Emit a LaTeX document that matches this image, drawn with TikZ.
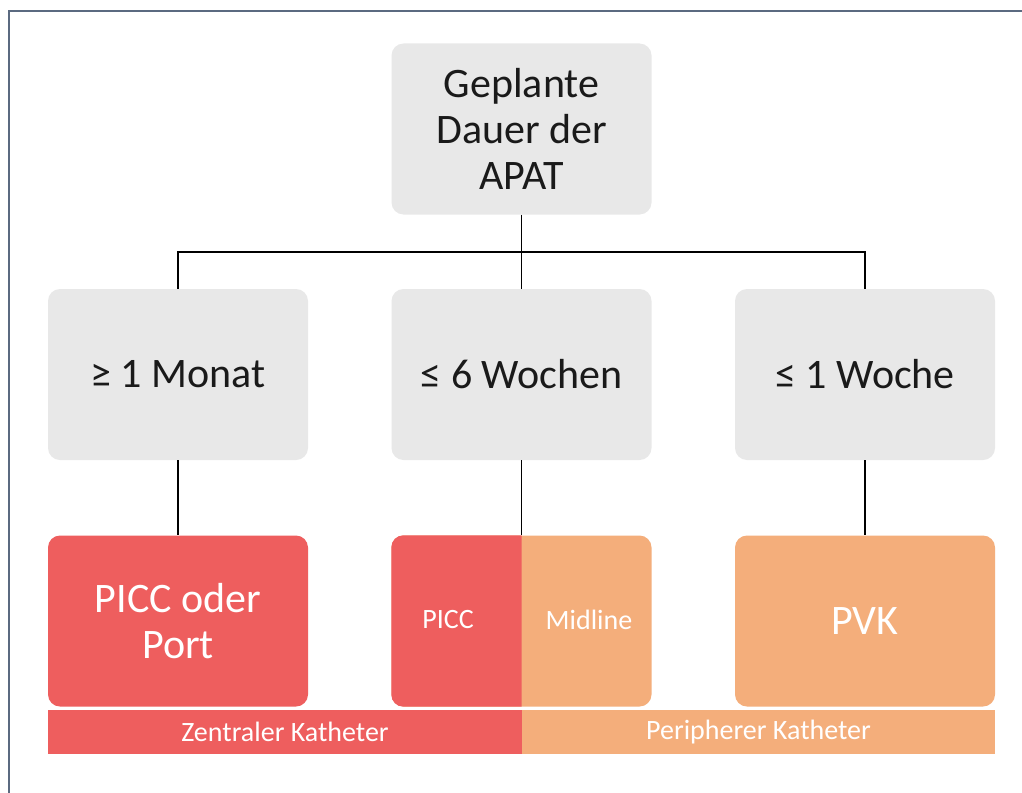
\documentclass[tikz,border=0pt]{standalone}
\usepackage{fontspec}
\setmainfont{Carlito}
\definecolor{boxgray}{HTML}{E8E8E8}
\definecolor{cred}{HTML}{EE5E5E}
\definecolor{corange}{HTML}{F4AE7B}
\definecolor{framec}{HTML}{5B6A80}
\definecolor{textdark}{HTML}{1A1A1A}
\begin{document}
\begin{tikzpicture}[x=1pt,y=-1pt,
  box/.style={rectangle, rounded corners=12pt, minimum width=260pt, minimum height=171pt,
    inner sep=0pt, align=center, font=\fontsize{42}{46}\selectfont},
  graybox/.style={box, fill=boxgray, text=textdark},
  redbox/.style={box, fill=cred, text=white},
  orangebox/.style={box, fill=corange, text=white},
  conn/.style={draw=black, line width=1.5pt},
  barpart/.style={rectangle, minimum height=44pt, inner sep=0pt, text=white,
    font=\fontsize{28}{32}\selectfont},
  smalltxt/.style={inner sep=0pt, text=white, font=\fontsize{28}{32}\selectfont}]
\useasboundingbox (0,0) rectangle (1022,792);
\fill[white] (0,0) rectangle (1022,792);
\draw[framec, line width=2.5pt] (9,800) -- (9,11) -- (1030,11);

% top
\node[graybox] (top) at (521.5,129) {Geplante\\Dauer der\\APAT};
% middle row
\node[graybox] (m1) at (178,374.5) {≥ 1 Monat};
\node[graybox] (m2) at (521.5,374.5) {≤ 6 Wochen};
\node[graybox] (m3) at (865,374.5) {≤ 1 Woche};
% bottom row
\node[redbox] (b1) at (178,621) {PICC oder\\Port};
\node[orangebox] (b2) at (521.5,621) {};
\begin{scope}
  \clip (380,500) rectangle (521.5,720);
  \fill[cred, rounded corners=12pt] (b2.north west) rectangle (b2.south east);
\end{scope}
\node[smalltxt] (picc) at (448,620) {PICC};
\node[smalltxt] (midl) at (589,620) {Midline};
\node[orangebox] (b3) at (865,621) {PVK};
% bars
\node[barpart, fill=cred, minimum width=474pt] (barL) at (285,732) {Zentraler Katheter};
\node[barpart, fill=corange, minimum width=473pt] (barR) at (758.5,732) {Peripherer Katheter};

% connectors
\coordinate (hub) at (521.5,252);
\draw[conn] (top.south) -- (hub);
\draw[conn] (m1.north) |- (hub);
\draw[conn] (hub) -| (m3.north);
\draw[conn] (hub) -- (m2.north);
\draw[conn] (m1.south) -- (b1.north);
\draw[conn] (m2.south) -- (b2.north);
\draw[conn] (m3.south) -- (b3.north);
\end{tikzpicture}
\end{document}
